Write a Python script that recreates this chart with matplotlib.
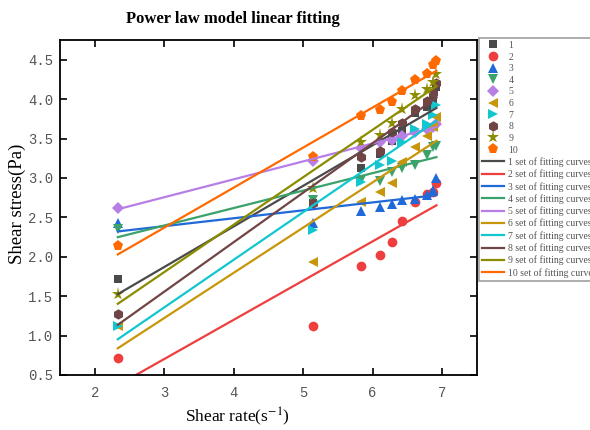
import numpy as np
import matplotlib
matplotlib.use("Agg")
import matplotlib.pyplot as plt

plt.rcParams['font.family'] = ['Liberation Serif', 'DejaVu Serif']
plt.rcParams['mathtext.fontset'] = 'stix'

# ln(shear rate), same for every set
shear_rate = [2.33, 5.14, 5.83, 6.11, 6.28, 6.42, 6.61, 6.79, 6.87, 6.92]

# ln(shear stress) for the 10 sets
set1 = [1.72, 2.68, 3.13, 3.30, 3.47, 3.60, 3.83, 3.90, 4.00, 4.15]
set2 = [0.71, 1.12, 1.88, 2.02, 2.19, 2.45, 2.69, 2.79, 2.82, 2.93]
set3 = [2.43, 2.43, 2.58, 2.63, 2.67, 2.72, 2.73, 2.78, 2.85, 3.00]
set4 = [2.35, 2.72, 2.97, 2.96, 3.08, 3.12, 3.16, 3.29, 3.39, 3.41]
set5 = [2.62, 3.22, 3.38, 3.45, 3.48, 3.53, 3.58, 3.62, 3.65, 3.68]
set6 = [1.12, 1.93, 2.69, 2.82, 2.93, 3.20, 3.39, 3.53, 3.65, 3.77]
set7 = [1.12, 2.34, 2.95, 3.16, 3.22, 3.45, 3.62, 3.69, 3.80, 3.92]
set8 = [1.27, 2.68, 3.26, 3.34, 3.58, 3.70, 3.87, 3.98, 4.08, 4.21]
set9 = [1.53, 2.87, 3.45, 3.54, 3.70, 3.87, 4.05, 4.13, 4.22, 4.32]
set10 = [2.13, 3.27, 3.78, 3.86, 3.96, 4.10, 4.24, 4.32, 4.43, 4.48]

sets = [set1, set2, set3, set4, set5, set6, set7, set8, set9, set10]
labels = [str(i) for i in range(1, 11)]
fit_labels = ['%d set of fitting curves' % i for i in range(1, 11)]

colors = ['#4a4a4a', '#ee3e3e', '#1f6ad8', '#3aa26a', '#b77fe6',
          '#c8960a', '#12c6cf', '#714545', '#8c8c00', '#ff6a00']
markers = ['s', 'o', '^', 'v', 'D', '<', '>', 'h', '*', 'p']
msizes = [6, 7, 7.5, 7.5, 6, 7.5, 7.5, 7.5, 9.5, 8]

fig = plt.figure(figsize=(5.9, 4.3), dpi=100)
ax = fig.add_axes([0.102, 0.128, 0.706, 0.779])

x = np.array(shear_rate)

# scatter points first
for i, y in enumerate(sets):
    ax.plot(x, y, linestyle='none', marker=markers[i], ms=msizes[i],
            color=colors[i], markeredgewidth=0, label=labels[i])

# then the linear fits on top
for i, y in enumerate(sets):
    k, b = np.polyfit(x, y, 1)
    xx = np.array([x.min(), x.max()])
    ax.plot(xx, k * xx + b, color=colors[i], lw=1.6, label=fit_labels[i])

ax.set_xlim(1.5, 7.5)
ax.set_ylim(0.5, 4.75)
ax.set_xticks([2, 3, 4, 5, 6, 7])
ax.set_yticks(np.arange(0.5, 4.51, 0.5))
ax.yaxis.set_major_formatter(plt.FormatStrFormatter('%.1f'))

ax.tick_params(direction='in', top=True, right=True, length=5, width=1.2,
               labelcolor='#555555')
ax.tick_params(axis='x', pad=8)
ax.tick_params(axis='y', pad=5)
for lab in ax.get_xticklabels() + ax.get_yticklabels():
    lab.set_family('Liberation Mono')
    lab.set_fontsize(10)
for sp in ax.spines.values():
    sp.set_linewidth(1.3)

ax.set_ylabel('Shear stress(Pa)', fontsize=13.5)
ax.yaxis.set_label_coords(-0.083, 0.51)
fig.text(0.4025, 0.03, r'Shear rate(s$^{-1}$)', ha='center', va='center', fontsize=12.5)
fig.text(0.394, 0.956, 'Power law model linear fitting', ha='center', va='center',
         fontsize=12, fontweight='bold')

leg = ax.legend(loc='upper left', bbox_to_anchor=(1.005, 1.006), fontsize=7,
                frameon=True, fancybox=False, edgecolor='#888888',
                labelspacing=0.27, handlelength=2.3, handletextpad=0.45,
                borderpad=0.3, borderaxespad=0, labelcolor='#555555')
leg.get_frame().set_linewidth(1.2)

fig.savefig('out.png', dpi=100)
